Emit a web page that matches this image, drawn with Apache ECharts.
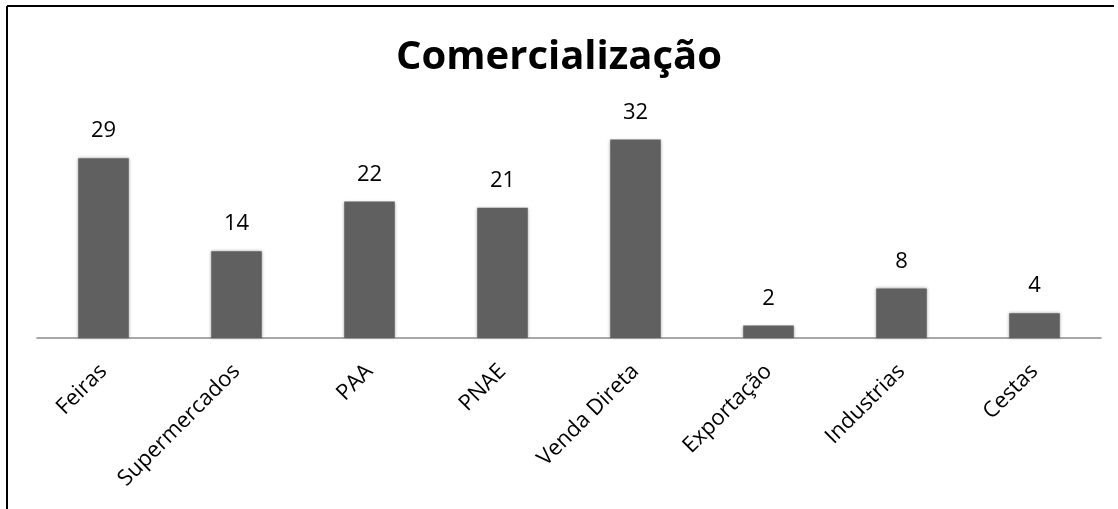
<!DOCTYPE html>
<html>
<head>
<meta charset="utf-8">
<script src="https://cdn.jsdelivr.net/npm/echarts@6/dist/echarts.min.js"></script>
<style>
  html, body { margin: 0; padding: 0; background: #fff; }
  #chart { width: 1118px; height: 509px; }
</style>
</head>
<body>
<div id="chart"></div>
<script>
// dados
var categorias = ['Feiras', 'Supermercados', 'PAA', 'PNAE', 'Venda Direta', 'Exportação', 'Industrias', 'Cestas'];
var valores = [29, 14, 22, 21, 32, 2, 8, 4];
var titulo = 'Comercialização';

var chart = echarts.init(document.getElementById('chart'));

chart.setOption({
  animation: false,
  title: {
    text: titulo,
    left: 'center',
    top: 33,
    textStyle: { fontFamily: 'Open Sans', fontWeight: 'bold', fontSize: 40, color: '#000' }
  },
  grid: { left: 37, right: 17, top: 121, bottom: 171 },
  xAxis: {
    type: 'category',
    data: categorias,
    axisLine: { lineStyle: { color: '#8c8c8c', width: 1.5 } },
    axisTick: { show: false },
    axisLabel: {
      rotate: 45,
      margin: 30,
      fontFamily: 'Open Sans',
      fontSize: 22,
      color: '#000',
      interval: 0
    }
  },
  yAxis: {
    type: 'value',
    min: 0,
    max: 35,
    show: false,
    splitLine: { show: false }
  },
  series: [{
    type: 'bar',
    data: valores,
    barWidth: '38%',
    itemStyle: {
      color: '#606060',
      shadowBlur: 3,
      shadowColor: 'rgba(0,0,0,0.35)'
    },
    label: {
      show: true,
      position: 'top',
      distance: 16,
      fontFamily: 'Open Sans',
      fontSize: 22,
      color: '#000'
    }
  }],
  graphic: [
    { type: 'line', shape: { x1: 7, y1: 6, x2: 1114, y2: 6 }, style: { stroke: '#000', lineWidth: 2 } },
    { type: 'line', shape: { x1: 7, y1: 6, x2: 7, y2: 509 }, style: { stroke: '#000', lineWidth: 2 } }
  ]
});
</script>
</body>
</html>
